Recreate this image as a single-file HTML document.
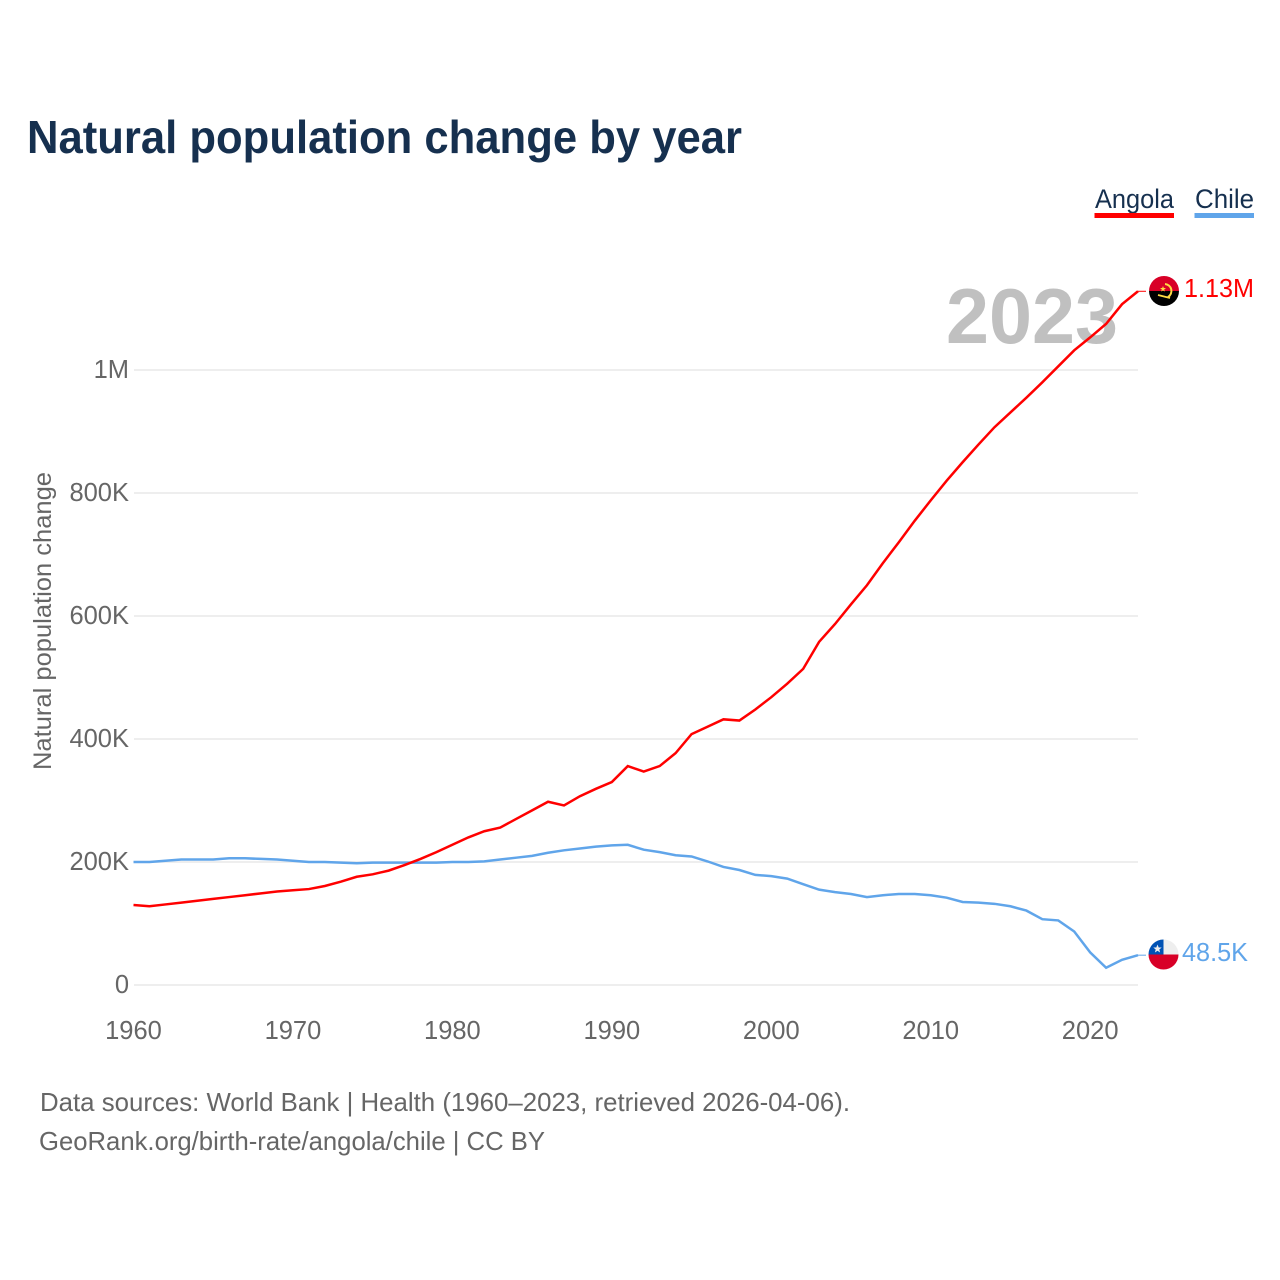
<!DOCTYPE html>
<html lang="en">
<head>
<meta charset="utf-8">
<title>Natural population change by year</title>
<style>
html,body{margin:0;padding:0;background:#fff;}
svg{display:block;font-family:"Liberation Sans",sans-serif;}
</style>
</head>
<body>
<svg id="chart" xmlns="http://www.w3.org/2000/svg" width="1280" height="1280" viewBox="0 0 1280 1280">
<defs>
<clipPath id="clip-angola"><circle cx="1164" cy="291" r="15"/></clipPath>
<clipPath id="clip-chile"><circle cx="1163.5" cy="954.5" r="15"/></clipPath>
</defs>
<text x="27" y="153" font-size="46" font-weight="700" fill="#16304f" textLength="715" lengthAdjust="spacingAndGlyphs">Natural population change by year</text>
<g>
<g>
<text x="1095" y="208" font-size="27" fill="#16304f" textLength="79" lengthAdjust="spacingAndGlyphs">Angola</text>
<rect x="1094.5" y="213" width="79.5" height="5" fill="#ff0000"/>
</g>
<g>
<text x="1195" y="208" font-size="27" fill="#16304f" textLength="59" lengthAdjust="spacingAndGlyphs">Chile</text>
<rect x="1194.5" y="213" width="59.5" height="5" fill="#60a5ea"/>
</g>
</g>
<text x="1118" y="343" font-size="78" font-weight="700" fill="#c0c0c0" text-anchor="end" textLength="172" lengthAdjust="spacingAndGlyphs">2023</text>
<g id="grid"></g>
<g id="y-ticks"></g>
<g id="x-ticks"></g>
<text transform="translate(51 621) rotate(-90)" font-size="25" fill="#666666" text-anchor="middle" textLength="298" lengthAdjust="spacingAndGlyphs">Natural population change</text>
<g id="series"></g>
<g clip-path="url(#clip-angola)">
<rect x="1149" y="276" width="30" height="15" fill="#d80027"/>
<rect x="1149" y="291" width="30" height="15" fill="#000000"/>
<path d="M1165 284 A7 7 0 0 1 1168 297" fill="none" stroke="#ffda44" stroke-width="2"/>
<path d="M1158 295 L1170 298" fill="none" stroke="#ffda44" stroke-width="1.8"/>
<polygon points="1163,286 1163.8,288 1166,288 1164.2,289.4 1164.8,291.6 1163,290.3 1161.2,291.6 1161.8,289.4 1160,288 1162.2,288" fill="#ffda44"/>
</g>
<g clip-path="url(#clip-chile)">
<rect x="1148" y="939" width="31" height="16" fill="#eeeeee"/>
<rect x="1148" y="954.5" width="31" height="16" fill="#d80027"/>
<rect x="1148" y="939" width="15.5" height="15.5" fill="#0052b4"/>
<polygon points="1157.5,944.5 1158.7,947.5 1161.7,947.5 1159.3,949.5 1160.1,952.5 1157.5,950.7 1154.9,952.5 1155.7,949.5 1153.3,947.5 1156.3,947.5" fill="#eeeeee"/>
</g>
<text x="1184" y="297" font-size="25.5" fill="#ff0000" textLength="70" lengthAdjust="spacingAndGlyphs">1.13M</text>
<text x="1182" y="961" font-size="25.5" fill="#60a5ea" textLength="66" lengthAdjust="spacingAndGlyphs">48.5K</text>
<text x="40" y="1111" font-size="26" fill="#666666" textLength="810" lengthAdjust="spacingAndGlyphs">Data sources: World Bank | Health (1960–2023, retrieved 2026-04-06).</text>
<text x="39" y="1150" font-size="26" fill="#666666" textLength="506" lengthAdjust="spacingAndGlyphs">GeoRank.org/birth-rate/angola/chile | CC BY</text>
</svg>
<script>
const startYear = 1960;
const angolaValues = [130,128,131,134,137,140,143,146,149,152,154,156,161,168,176,180,186,195,205,216,228,240,250,256,270,284,298,292,307,319,330,356,347,356,377,408,420,432,430,448,468,490,514,558,587,619,650,686,720,755,788,820,850,879,907,931,955,980,1006,1032,1053,1075,1107,1128];
const chileValues = [200,200,202,204,204,204,206,206,205,204,202,200,200,199,198,199,199,199,199,199,200,200,201,204,207,210,215,219,222,225,227,228,220,216,211,209,201,192,187,179,177,173,164,155,151,148,143,146,148,148,146,142,135,134,132,128,121,107,105,87,53,28,41,48.5];
const yTickValues = [0,200,400,600,800,1000];
const yTickLabels = ["0","200K","400K","600K","800K","1M"];
const xTickValues = [1960,1970,1980,1990,2000,2010,2020];

const NS = "http://www.w3.org/2000/svg";
function xScale(year){ return 133.5 + (year - 1960) * (1138 - 133.5) / 63; }
function yScale(v){ return 985 - v * 615 / 1000; }

const grid = document.getElementById("grid");
const yTicks = document.getElementById("y-ticks");
const xTicks = document.getElementById("x-ticks");
const seriesGroup = document.getElementById("series");

yTickValues.forEach(function(v, i){
  const line = document.createElementNS(NS, "line");
  
  
  line.setAttribute("x1", 134);
  line.setAttribute("x2", 1138);
  line.setAttribute("y1", yScale(v));
  line.setAttribute("y2", yScale(v));
  line.setAttribute("stroke", "#eeeeee");
  line.setAttribute("stroke-width", 2);
  grid.appendChild(line);
  const label = document.createElementNS(NS, "text");
  
  
  label.setAttribute("x", 129);
  label.setAttribute("y", yScale(v) + 8);
  label.setAttribute("text-anchor", "end");
  label.setAttribute("font-size", "25.5");
  label.setAttribute("fill", "#666666");
  label.textContent = yTickLabels[i];
  yTicks.appendChild(label);
});

xTickValues.forEach(function(year){
  const label = document.createElementNS(NS, "text");
  
  
  label.setAttribute("x", xScale(year));
  label.setAttribute("y", 1039);
  label.setAttribute("text-anchor", "middle");
  label.setAttribute("font-size", "25.5");
  label.setAttribute("fill", "#666666");
  label.textContent = String(year);
  xTicks.appendChild(label);
});

function seriesPoints(values){
  return values.map(function(v, i){
    return xScale(startYear + i).toFixed(2) + "," + yScale(v).toFixed(2);
  }).join(" ");
}

const chileLine = document.createElementNS(NS, "polyline");


chileLine.setAttribute("points", seriesPoints(chileValues));
chileLine.setAttribute("fill", "none");
chileLine.setAttribute("stroke", "#60a5ea");
chileLine.setAttribute("stroke-width", 2.5);
seriesGroup.appendChild(chileLine);

const angolaLine = document.createElementNS(NS, "polyline");


angolaLine.setAttribute("points", seriesPoints(angolaValues));
angolaLine.setAttribute("fill", "none");
angolaLine.setAttribute("stroke", "#ff0000");
angolaLine.setAttribute("stroke-width", 2.5);
seriesGroup.appendChild(angolaLine);

const angolaConnector = document.createElementNS(NS, "line");


angolaConnector.setAttribute("x1", 1138);
angolaConnector.setAttribute("x2", 1146);
angolaConnector.setAttribute("y1", yScale(angolaValues[angolaValues.length - 1]));
angolaConnector.setAttribute("y2", yScale(angolaValues[angolaValues.length - 1]));
angolaConnector.setAttribute("stroke", "#ff0000");
angolaConnector.setAttribute("stroke-width", 1);
seriesGroup.appendChild(angolaConnector);

const chileConnector = document.createElementNS(NS, "line");


chileConnector.setAttribute("x1", 1138);
chileConnector.setAttribute("x2", 1146);
chileConnector.setAttribute("y1", yScale(chileValues[chileValues.length - 1]));
chileConnector.setAttribute("y2", yScale(chileValues[chileValues.length - 1]));
chileConnector.setAttribute("stroke", "#60a5ea");
chileConnector.setAttribute("stroke-width", 1);
seriesGroup.appendChild(chileConnector);
</script>
</body>
</html>
